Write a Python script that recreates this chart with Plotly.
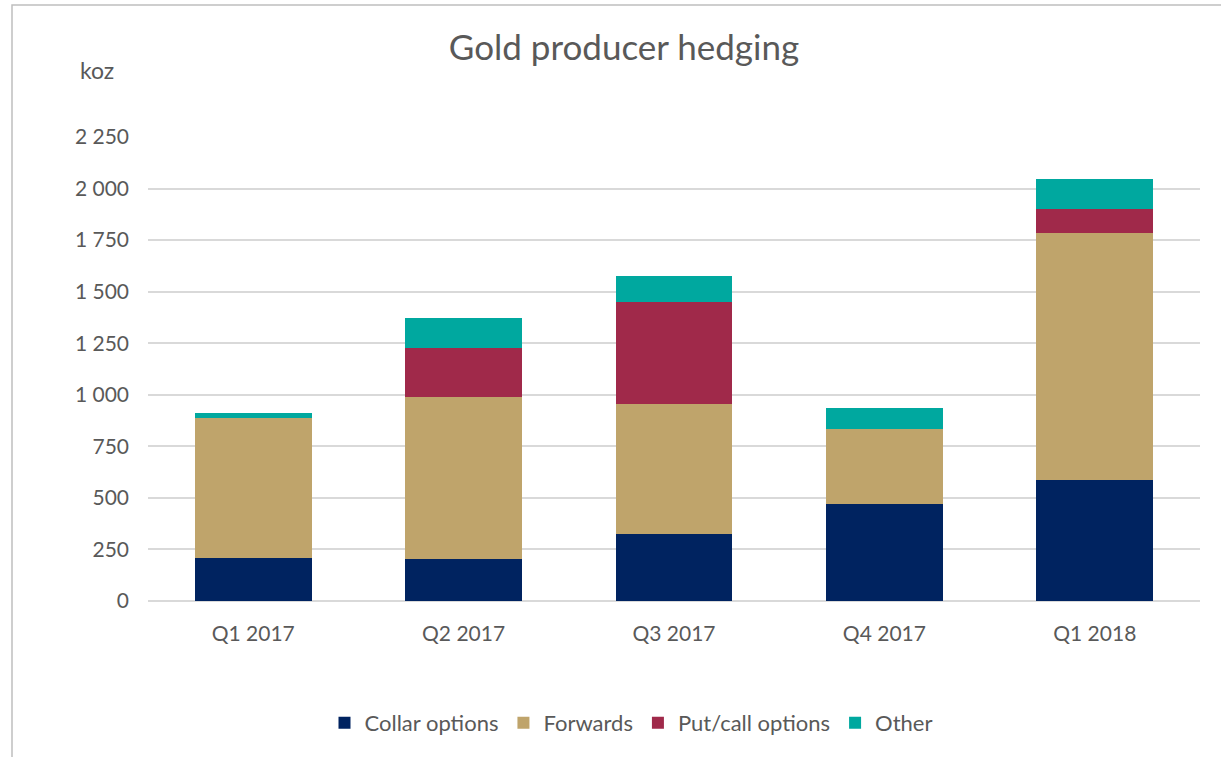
import plotly.graph_objects as go

# Quarterly gold producer hedging book, koz
quarters = ["Q1 2017", "Q2 2017", "Q3 2017", "Q4 2017", "Q1 2018"]
collar_options = [210, 204, 323, 472, 587]
forwards = [676, 787, 634, 360, 1196]
put_call_options = [0, 237, 494, 0, 118]
other = [26, 143, 127, 105, 145]

y_ticks = [0, 250, 500, 750, 1000, 1250, 1500, 1750, 2000, 2250]
y_tick_text = ["0", "250", "500", "750", "1 000", "1 250", "1 500", "1 750", "2 000", "2 250"]

series = [
    ("Collar options", collar_options, "#002360"),
    ("Forwards", forwards, "#BFA46B"),
    ("Put/call options", put_call_options, "#A0294A"),
    ("Other", other, "#00A89F"),
]

FONT = "Lato, Carlito, Calibri, sans-serif"
GREY = "#595959"

fig = go.Figure()
for name, vals, color in series:
    fig.add_trace(go.Bar(
        name=name, x=quarters, y=vals,
        marker=dict(color=color, line=dict(width=0)),
    ))

W, H = 1221, 757
L, R, T, B = 148, 21, 137, 156
pw, ph = W - L - R, H - T - B

def px_x(p):
    return (p - L) / pw

def px_y(p):
    return (H - B - p) / ph

fig.update_layout(
    width=W, height=H,
    barmode="stack", bargap=0.444,
    plot_bgcolor="white", paper_bgcolor="white",
    margin=dict(l=L, r=R, t=T, b=B),
    font=dict(family=FONT, color=GREY, size=21),
    title=dict(
        text="Gold producer hedging",
        x=624 / W, xanchor="center", xref="container",
        y=1 - 48 / H, yanchor="middle", yref="container",
        font=dict(size=35, color=GREY, family=FONT),
    ),
    showlegend=True,
    legend=dict(
        orientation="h", x=px_x(631), xanchor="center",
        y=px_y(723), yanchor="middle",
        font=dict(size=22, color=GREY), traceorder="normal",
        itemwidth=30,
    ),
    xaxis=dict(
        showgrid=False, showline=False, ticks="",
        tickfont=dict(size=21, color=GREY),
        ticklabelstandoff=18,
    ),
    yaxis=dict(
        range=[0, 2250], tickvals=y_ticks, ticktext=y_tick_text,
        showgrid=True, gridcolor="#D9D9D9", gridwidth=1.5,
        zeroline=True, zerolinecolor="#D9D9D9", zerolinewidth=1.5,
        showline=False, ticks="", ticklabelstandoff=18,
        tickfont=dict(size=21, color=GREY),
    ),
    annotations=[dict(
        text="koz", xref="paper", yref="paper",
        x=px_x(97), y=px_y(70), xanchor="center", yanchor="middle",
        showarrow=False, font=dict(size=23, color=GREY),
    )],
    shapes=[dict(
        type="rect", xref="paper", yref="paper",
        x0=px_x(12), x1=px_x(1240), y0=px_y(5), y1=px_y(780),
        line=dict(color="#BFBFBF", width=1.5), fillcolor="rgba(0,0,0,0)",
        layer="below",
    )],
)

fig.write_html("out.html")
